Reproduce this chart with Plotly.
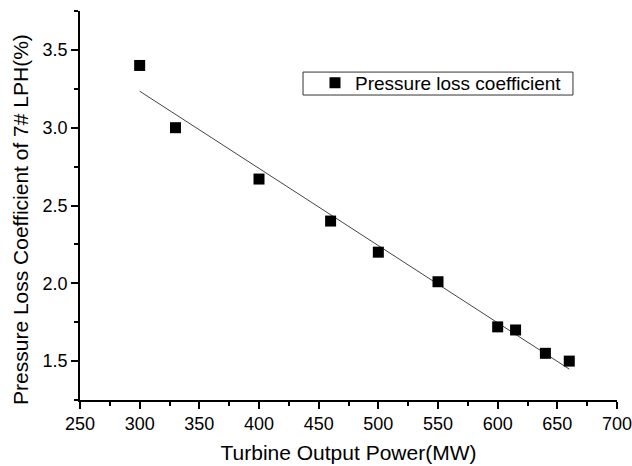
import numpy as np
import plotly.graph_objects as go

power_mw = [300, 330, 400, 460, 500, 550, 600, 615, 640, 660]
loss_coef = [3.40, 3.00, 2.67, 2.40, 2.20, 2.01, 1.72, 1.70, 1.55, 1.50]
x_ticks = [250, 300, 350, 400, 450, 500, 550, 600, 650, 700]
y_ticks = [1.5, 2.0, 2.5, 3.0, 3.5]

slope, intercept = np.polyfit(power_mw, loss_coef, 1)
fit_x = [min(power_mw), max(power_mw)]
fit_y = [slope * v + intercept for v in fit_x]

font = "Arial, 'Liberation Sans', sans-serif"

fig = go.Figure()
fig.add_trace(go.Scatter(
    x=fit_x, y=fit_y, mode="lines",
    line=dict(color="#444444", width=1),
    showlegend=False, hoverinfo="skip",
))
fig.add_trace(go.Scatter(
    x=power_mw, y=loss_coef, mode="markers",
    marker=dict(symbol="square", size=11, color="black"),
    name="Pressure loss coefficient",
))

axis_common = dict(
    showline=True, linecolor="black", linewidth=1.5,
    ticks="outside", ticklen=7, tickwidth=1.5, tickcolor="black",
    showgrid=False, zeroline=False, mirror=False, automargin=False,
    ticklabeloverflow="allow",
    tickfont=dict(family=font, size=18, color="black"),
)

fig.update_xaxes(
    range=[250, 700], tickvals=x_ticks,
    title=dict(text="Turbine Output Power(MW)", font=dict(family=font, size=21, color="black"), standoff=12),
    minor=dict(ticks="outside", ticklen=4, tickwidth=1.5, tickcolor="black", dtick=25, showgrid=False),
    **axis_common,
)
fig.update_yaxes(
    range=[1.25, 3.75], tickvals=y_ticks, tickformat=".1f",
    minor=dict(ticks="outside", ticklen=4, tickwidth=1.5, tickcolor="black", dtick=0.25, showgrid=False),
    **axis_common,
)

fig.add_annotation(
    text="Pressure Loss Coefficient of 7# LPH(%)",
    xref="paper", yref="paper", x=-0.112, y=0.465,
    xanchor="center", yanchor="middle", textangle=-90, showarrow=False,
    font=dict(family=font, size=21, color="black"),
)

fig.add_shape(
    type="rect", xref="paper", yref="paper",
    x0=0.4153, x1=0.918, y0=0.784, y1=0.843,
    line=dict(color="#333333", width=1), fillcolor="white", layer="below",
)

fig.update_layout(
    width=632, height=466,
    margin=dict(l=80, r=15, t=11, b=66),
    paper_bgcolor="white", plot_bgcolor="white",
    font=dict(family=font, color="black"),
    legend=dict(
        x=0.4376, y=0.864, xanchor="left", yanchor="top",
        borderwidth=0, bgcolor="rgba(0,0,0,0)",
        font=dict(family=font, size=19, color="black"),
        tracegroupgap=0,
    ),
)

fig.write_html("out.html")
